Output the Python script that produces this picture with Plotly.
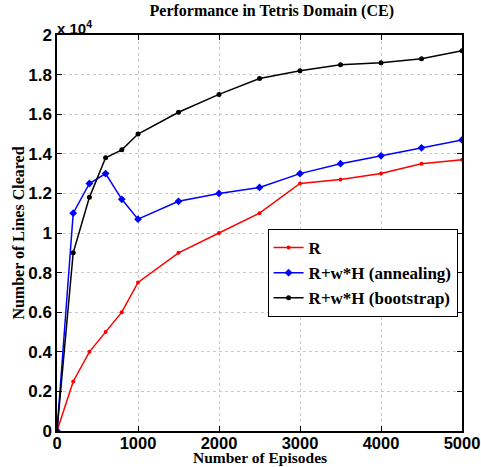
import plotly.graph_objects as go

episodes = [0, 200, 400, 600, 800, 1000, 1500, 2000, 2500, 3000, 3500, 4000, 4500, 5000]
r_vals = [0, 2500, 4000, 5000, 6000, 7500, 9000, 10000, 11000, 12500, 12700, 13000, 13500, 13700]
anneal_vals = [0, 11000, 12500, 13000, 11700, 10700, 11600, 12000, 12300, 13000, 13500, 13900, 14300, 14700]
boot_vals = [0, 9000, 11800, 13800, 14200, 15000, 16100, 17000, 17800, 18200, 18500, 18600, 18800, 19200]

y_tickvals = [0, 2000, 4000, 6000, 8000, 10000, 12000, 14000, 16000, 18000, 20000]
y_ticktext = ["0", "0.2", "0.4", "0.6", "0.8", "1", "1.2", "1.4", "1.6", "1.8", "2"]
x_tickvals = [0, 1000, 2000, 3000, 4000, 5000]
x_ticktext = ["0", "1000", "2000", "3000", "4000", "5000"]

fig = go.Figure()
fig.add_trace(go.Scatter(x=episodes, y=r_vals, mode="lines+markers", name="<b>R</b>",
                         line=dict(color="#ff0000", width=1.5),
                         marker=dict(symbol="circle", size=4, color="#ff0000")))
fig.add_trace(go.Scatter(x=episodes, y=anneal_vals, mode="lines+markers", name="<b>R+w*H (annealing)</b>",
                         line=dict(color="#0000ff", width=1.5),
                         marker=dict(symbol="diamond", size=6, color="#0000ff")))
fig.add_trace(go.Scatter(x=episodes, y=boot_vals, mode="lines+markers", name="<b>R+w*H (bootstrap)</b>",
                         line=dict(color="#000000", width=1.5),
                         marker=dict(symbol="circle", size=5, color="#000000")))

axis_common = dict(showline=True, linecolor="black", linewidth=1.5, mirror="ticks",
                   ticks="inside", ticklen=5, tickcolor="black",
                   showgrid=True, gridcolor="#c8c8c8", griddash="dot", gridwidth=1,
                   zeroline=False, automargin=False)

fig.update_xaxes(range=[0, 5000], tickvals=x_tickvals, ticktext=["<b>%s</b>" % t for t in x_ticktext],
                 ticklabelstandoff=-4,
                 tickfont=dict(family="Liberation Sans", size=16.5, color="black"),
                 **axis_common)
fig.update_yaxes(range=[0, 20000], tickvals=y_tickvals, ticktext=["<b>%s</b>" % t for t in y_ticktext],
                 tickfont=dict(family="Liberation Sans", size=17, color="black"),
                 title=dict(text="<b>Number of Lines Cleared</b>", standoff=0,
                            font=dict(family="Liberation Serif", size=16, color="black")),
                 **axis_common)

fig.update_layout(
    width=481, height=467,
    margin=dict(l=57, r=19, t=35, b=36),
    paper_bgcolor="white", plot_bgcolor="white",
    title=dict(text="<b>Performance in Tetris Domain (CE)</b>", x=0.565, xanchor="center",
               y=0.99, yanchor="top",
               font=dict(family="Liberation Serif", size=16, color="black")),
    legend=dict(x=0.52, y=0.51, xanchor="left", yanchor="top",
                bgcolor="white", bordercolor="black", borderwidth=1,
                font=dict(family="Liberation Serif", size=17, color="black"),
                tracegroupgap=0, itemwidth=30),
    showlegend=True,
)
fig.add_annotation(text="<b>Number of Episodes</b>", xref="paper", yref="paper", x=0.5, y=0,
                   xanchor="center", yanchor="middle", yshift=-26.5, showarrow=False,
                   borderpad=0,
                   font=dict(family="Liberation Serif", size=15.5, color="black"))
fig.add_annotation(text="<b>x 10<sup>4</sup></b>", xref="paper", yref="paper", x=0.0, y=1.0,
                   xanchor="left", yanchor="bottom", showarrow=False, yshift=-4, xshift=-2,
                   font=dict(family="Liberation Sans", size=15, color="black"))

fig.write_html("out.html")
